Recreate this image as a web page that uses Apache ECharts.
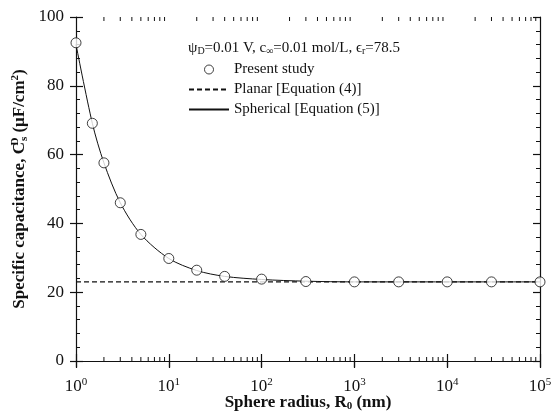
<!DOCTYPE html>
<html><head><meta charset="utf-8">
<script src="https://cdn.jsdelivr.net/npm/echarts@6/dist/echarts.min.js"></script>
<style>html,body{margin:0;padding:0;background:#fff}#c{width:552px;height:415px}</style>
</head><body><div id="c"></div>
<script>
// Data
const radius = [1, 1.5, 2, 3, 5, 10, 20, 40, 100, 300, 1000, 3000, 10000, 30000, 100000];
const presentStudy = [92.5, 69.1, 57.6, 46.0, 36.8, 29.8, 26.4, 24.6, 23.8, 23.1, 23.0, 23.0, 23.0, 23.0, 23.0];
const planarX = [1, 100000];
const planarY = [23.0, 23.0];
const sphericalX = [1, 1.5, 2, 3, 5, 10, 20, 40, 100, 300, 1000, 3000, 10000, 30000, 100000];
const sphericalY = [92.0, 69.1, 57.6, 46.0, 36.8, 29.8, 26.3, 24.6, 23.7, 23.2, 23.0, 23.0, 23.0, 23.0, 23.0];
const yTicks = [0, 20, 40, 60, 80, 100];
const minorMantissa = [2, 3, 4, 5, 6, 7, 8, 9];
const decades = [1, 10, 100, 1000, 10000];
const minorTicks = [];
decades.forEach(d => minorMantissa.forEach(m => minorTicks.push(m * d)));

const FONT = '"Liberation Serif", "DejaVu Serif", serif';
const C = '#111';

const chart = echarts.init(document.getElementById('c'), null, {renderer: 'canvas'});

function xLab(v) {
  const e = Math.round(Math.log10(v));
  return '{b|10}{s|' + e + '}';
}

const baseX = {
  type: 'log', logBase: 10, min: 1, max: 100000,
  splitLine: {show: false}
};
const baseY = {
  type: 'value', min: 0, max: 100, interval: 20,
  splitLine: {show: false}
};

chart.setOption({
  animation: false,
  backgroundColor: '#fff',
  grid: {left: 76, right: 12, top: 17, bottom: 54, containLabel: false, outerBoundsMode: 'none'},
  title: {
    text: '{t|ψ}{sb|D}{t|=0.01 V, c}{sb|∞}{t|=0.01 mol/L, ϵ}{sb|r}{t|=78.5}',
    left: 183, top: 35,
    textStyle: {
      fontWeight: 'normal',
      rich: {
        t: {fontFamily: FONT, fontSize: 15, fontWeight: 'normal', color: C},
        sb: {fontFamily: FONT, fontSize: 10, fontWeight: 'normal', color: C, verticalAlign: 'bottom', padding: [6, 0, 0, 0]}
      }
    }
  },
  legend: {
    left: 183, top: 57, orient: 'vertical',
    itemWidth: 40, itemHeight: 9, itemGap: 5,
    textStyle: {fontFamily: FONT, fontSize: 15, color: C},
    data: [
      {name: 'Present study', icon: 'circle', itemStyle: {color: '#fff', borderColor: C, borderWidth: 1}},
      {name: 'Planar [Equation (4)]', itemStyle: {opacity: 0}},
      {name: 'Spherical [Equation (5)]', itemStyle: {opacity: 0}}
    ]
  },
  xAxis: [
    Object.assign({}, baseX, {
      position: 'bottom',
      axisLine: {lineStyle: {color: C, width: 1.2}},
      axisTick: {inside: true, length: 7, lineStyle: {color: C, width: 1.2}},
      axisLabel: {
        margin: 16, formatter: xLab,
        rich: {
          b: {fontFamily: FONT, fontSize: 17, color: C},
          s: {fontFamily: FONT, fontSize: 11, color: C, verticalAlign: 'top', padding: [0, 0, 8, 0]}
        }
      },
      name: '{n|Sphere radius, R}{ns|0}{n| (nm)}',
      nameLocation: 'middle', nameGap: 33, nameMoveOverlap: false,
      nameTextStyle: {
        rich: {
          n: {fontFamily: FONT, fontSize: 17, fontWeight: 'bold', color: C},
          ns: {fontFamily: FONT, fontSize: 11, fontWeight: 'bold', color: C, verticalAlign: 'bottom', padding: [7, 0, 0, 0]}
        }
      }
    }),
    Object.assign({}, baseX, {
      position: 'top',
      axisLine: {lineStyle: {color: C, width: 1.2}},
      axisTick: {inside: true, length: 7, lineStyle: {color: C, width: 1.2}},
      axisLabel: {show: false}
    }),
    Object.assign({}, baseX, {
      position: 'bottom',
      axisLine: {show: false},
      axisTick: {inside: false, length: 6, lineStyle: {color: C, width: 1.2}},
      axisLabel: {show: false}
    })
  ],
  yAxis: [
    Object.assign({}, baseY, {
      position: 'left',
      axisLine: {lineStyle: {color: C, width: 1.2}},
      axisTick: {inside: true, length: 7, lineStyle: {color: C, width: 1.2}},
      minorTick: {show: true, splitNumber: 5, length: 4, lineStyle: {color: C, width: 1}},
      axisLabel: {margin: 12, fontFamily: FONT, fontSize: 17, color: C,
        formatter: v => yTicks.includes(v) ? String(v) : ''},
      name: '{n|Specific capacitance, C}{sp|D}{sb|s}{n| (μF/cm}{s2|2}{n|)}',
      nameLocation: 'middle', nameGap: 46, nameRotate: 90, nameMoveOverlap: false,
      nameTextStyle: {
        rich: {
          n: {fontFamily: FONT, fontSize: 17, fontWeight: 'bold', color: C},
          sp: {fontFamily: FONT, fontSize: 11, fontWeight: 'bold', color: C, verticalAlign: 'top', width: 1, padding: [0, 0, 9, 0]},
          sb: {fontFamily: FONT, fontSize: 11, fontWeight: 'bold', color: C, verticalAlign: 'bottom', padding: [7, 0, 0, 0]},
          s2: {fontFamily: FONT, fontSize: 11, fontWeight: 'bold', color: C, verticalAlign: 'top', padding: [0, 0, 9, 0]}
        }
      }
    }),
    Object.assign({}, baseY, {
      position: 'right',
      axisLine: {lineStyle: {color: C, width: 1.2}},
      axisTick: {inside: true, length: 7, lineStyle: {color: C, width: 1.2}},
      minorTick: {show: true, splitNumber: 5, length: 4, lineStyle: {color: C, width: 1}},
      axisLabel: {show: false}
    }),
    Object.assign({}, baseY, {
      position: 'left',
      axisLine: {show: false},
      axisTick: {inside: false, length: 6, lineStyle: {color: C, width: 1.2}},
      axisLabel: {show: false}
    })
  ],
  series: [
    {
      name: 'Spherical [Equation (5)]', type: 'line',
      data: sphericalX.map((x, i) => [x, sphericalY[i]]),
      smooth: 0.3, symbol: 'none',
      lineStyle: {color: C, width: 1}, itemStyle: {color: C}, z: 3
    },
    {
      name: 'Planar [Equation (4)]', type: 'line',
      data: planarX.map((x, i) => [x, planarY[i]]),
      symbol: 'none',
      lineStyle: {color: C, width: 1.1, type: [5, 3]}, itemStyle: {color: C}, z: 4
    },
    {
      name: 'Present study', type: 'scatter',
      data: radius.map((x, i) => [x, presentStudy[i]]),
      symbol: 'circle', symbolSize: 10,
      itemStyle: {color: '#fff', borderColor: C, borderWidth: 1}, z: 5
    },
    {
      type: 'custom', silent: true, z: 6,
      data: minorTicks.map(v => [v]),
      encode: {x: 0},
      renderItem: function (params, api) {
        const v = api.value(0);
        const b = api.coord([v, 0]);
        const t = api.coord([v, 100]);
        return {
          type: 'group',
          children: [
            {type: 'line', shape: {x1: b[0], y1: b[1], x2: b[0], y2: b[1] - 4}, style: {stroke: C, lineWidth: 1}},
            {type: 'line', shape: {x1: t[0], y1: t[1], x2: t[0], y2: t[1] + 4}, style: {stroke: C, lineWidth: 1}}
          ]
        };
      }
    }
  ]
});
</script></body></html>
